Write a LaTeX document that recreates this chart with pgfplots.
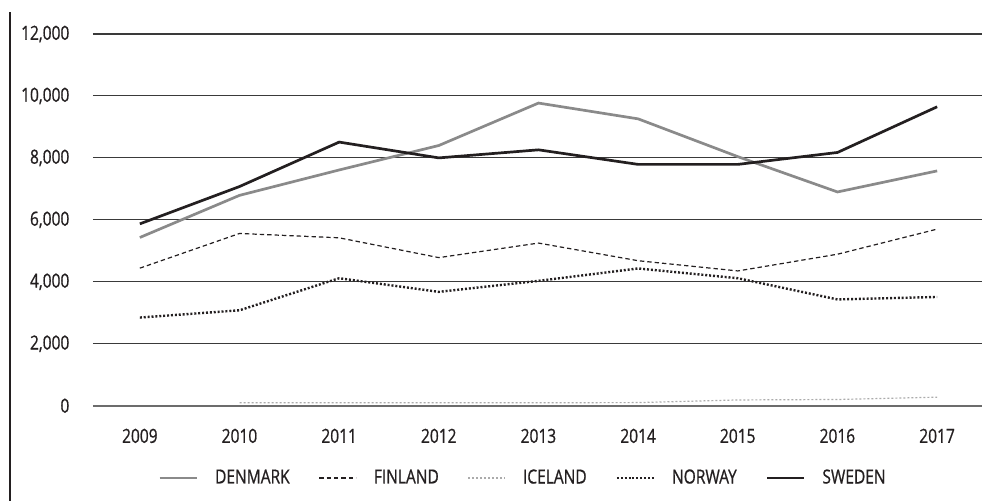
\documentclass[border=0pt]{standalone}
\usepackage{fontspec}
\setmainfont[FakeStretch=0.8, FakeBold=0.8]{Open Sans}
\usepackage{pgfplots}
\pgfplotsset{compat=1.18}
\definecolor{gridc}{HTML}{3A3A3A}
\definecolor{dk}{HTML}{8A8A8A}
\definecolor{sw}{HTML}{231F20}
\definecolor{ic}{HTML}{ABABAB}
\begin{document}
\begin{tikzpicture}
\useasboundingbox (0,0) rectangle (491pt,250.5pt);
\draw[sw, line width=1pt] (5pt,0pt) -- (5pt,244.5pt);
\begin{axis}[
  at={(46.5pt,47.65pt)}, anchor=south west,
  scale only axis, width=444.5pt, height=185.85pt,
  xmin=2008.53, xmax=2017.45, ymin=0, ymax=12000,
  xtick={2009,...,2017}, ytick={2000,4000,...,12000},
  extra y ticks={0},
  extra y tick style={grid style={color=gray!85!black, line width=0.85pt}},
  scaled y ticks=false,
  axis line style={draw=none},
  major tick length=0pt,
  xmajorgrids=false, ymajorgrids=true, grid style={color=gridc, line width=0.55pt},
  font=\fontsize{9.7}{11}\selectfont,
  /pgf/number format/assume math mode=true,
  ticklabel style={text=sw},
  x tick label style={/pgf/number format/1000 sep={}, yshift=-8pt},
  y tick label style={/pgf/number format/1000 sep={,}, xshift=-8.3pt},
  legend columns=-1,
  legend style={at={(0.0731,-0.1945)}, anchor=west, draw=none, fill=none, inner sep=0pt,
    font=\fontsize{9.7}{11}\selectfont, text=sw,
    /tikz/every odd column/.append style={column sep=6.5pt},
    /tikz/every even column/.append style={column sep=12.5pt}},
  legend image code/.code={\draw[#1] (0pt,0pt) -- (18.5pt,0pt);},
]
\addplot[dk, line width=1.35pt] coordinates {(2009,5430) (2010,6790) (2011,7610) (2012,8400) (2013,9770) (2014,9260) (2015,8040) (2016,6900) (2017,7580)};
\addlegendentry{DENMARK}
\addplot[sw, line width=0.6pt, dash pattern=on 2.2pt off 1.5pt] coordinates {(2009,4440) (2010,5560) (2011,5420) (2012,4780) (2013,5250) (2014,4680) (2015,4350) (2016,4890) (2017,5700)};
\addlegendentry{FINLAND}
\addplot[ic, line width=0.6pt, dash pattern=on 1pt off 1pt] coordinates {(2010,95) (2011,95) (2012,95) (2013,95) (2014,100) (2015,185) (2016,200) (2017,275)};
\addlegendentry{ICELAND}
\addplot[sw, line width=1.2pt, dash pattern=on 1pt off 0.95pt] coordinates {(2009,2845) (2010,3080) (2011,4115) (2012,3675) (2013,4030) (2014,4430) (2015,4115) (2016,3430) (2017,3510)};
\addlegendentry{NORWAY}
\addplot[sw, line width=1.35pt] coordinates {(2009,5870) (2010,7075) (2011,8510) (2012,8000) (2013,8260) (2014,7790) (2015,7790) (2016,8175) (2017,9650)};
\addlegendentry{SWEDEN}
\end{axis}
\end{tikzpicture}
\end{document}
